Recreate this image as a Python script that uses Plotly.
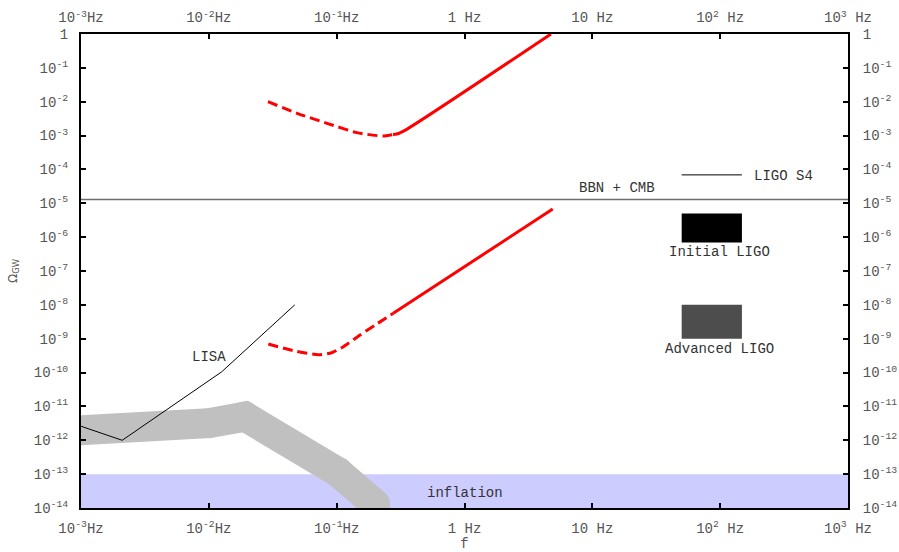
import math
import plotly.graph_objects as go

# ---- data ----
x_tickvals = [1e-3, 1e-2, 1e-1, 1, 10, 100, 1000]
x_ticktext = ["10<sup>-3</sup>Hz", "10<sup>-2</sup>Hz", "10<sup>-1</sup>Hz", "1 Hz",
              "10 Hz", "10<sup>2</sup> Hz", "10<sup>3</sup> Hz"]
y_tickvals = [10.0 ** -k for k in range(0, 15)]
y_ticktext = ["1"] + ["10<sup>-%d</sup>" % k for k in range(1, 15)]

# upper red curve
up_dash_f = [0.029, 0.049, 0.084, 0.144, 0.23, 0.276]
up_dash_o = [1.0e-2, 4.55e-3, 2.3e-3, 1.22e-3, 9.7e-4, 1.07e-3]
up_solid_f = [0.276, 0.295, 0.353, 4.75]
up_solid_o = [1.07e-3, 1.11e-3, 1.53e-3, 1.0]

# lower red curve
lo_dash_f = [0.0292, 0.0458, 0.0718, 0.0914, 0.1127, 0.1524, 0.2056, 0.2773]
lo_dash_o = [6.98e-10, 4.43e-10, 3.37e-10, 3.86e-10, 5.81e-10, 1.29e-9, 2.72e-9, 5.64e-9]
lo_solid_f = [0.2773, 4.9]
lo_solid_o = [5.64e-9, 6.78e-6]

# LISA sensitivity
lisa_f = [1e-3, 2.1e-3, 0.0126, 0.047]
lisa_o = [2.6e-12, 1.0e-12, 1.05e-10, 1.0e-8]

# grey band (centre line)
band_f = [8e-4, 0.01, 0.0192, 0.1026, 0.2]
band_o = [1.9e-12, 3.2e-12, 5.0e-12, 1.15e-13, 1.3e-14]

# BBN + CMB bound
bbn_f = [1e-3, 1e3]
bbn_o = [1.3e-5, 1.3e-5]

# LIGO S4
s4_f = [50, 148]
s4_o = [6.9e-5, 6.9e-5]

# Initial / Advanced LIGO boxes: [f_lo, f_hi], [omega_lo, omega_hi]
init_f = [50, 148]
init_o = [7e-7, 5e-6]
adv_f = [50, 148]
adv_o = [1e-9, 1e-8]

# inflation band
infl_f = [1e-3, 1e3]
infl_o = [1e-14, 1e-13]

# labels: text, f, omega, anchor
labels = [
    ("LISA", 0.01, 2.8e-10, "center"),
    ("BBN + CMB", 15.6, 2.9e-5, "center"),
    ("LIGO S4", 178, 6.2e-5, "left"),
    ("Initial LIGO", 98, 3.7e-7, "center"),
    ("Advanced LIGO", 98, 5.1e-10, "center"),
    ("inflation", 1.0, 2.8e-14, "center"),
]

MONO = "Liberation Mono, Courier New, monospace"
RED = "#ff0000"

fig = go.Figure()


def rect(fr, orr, color):
    fig.add_trace(go.Scatter(
        x=[fr[0], fr[1], fr[1], fr[0], fr[0]],
        y=[orr[0], orr[0], orr[1], orr[1], orr[0]],
        mode="lines", fill="toself", fillcolor=color,
        line=dict(width=0, color=color), hoverinfo="skip", showlegend=False))


rect(infl_f, infl_o, "#ccccff")

# thick grey band: wide line, round joins/caps emulated by circular markers
fig.add_trace(go.Scatter(x=band_f, y=band_o, mode="lines+markers",
                         line=dict(color="#c0c0c0", width=30, simplify=False),
                         marker=dict(color="#c0c0c0", size=30, line=dict(width=0)),
                         showlegend=False, hoverinfo="skip"))

fig.add_trace(go.Scatter(x=lisa_f, y=lisa_o, mode="lines",
                         line=dict(color="black", width=1), showlegend=False))

fig.add_trace(go.Scatter(x=bbn_f, y=bbn_o, mode="lines",
                         line=dict(color="#6e6e6e", width=1.5), showlegend=False))

fig.add_trace(go.Scatter(x=s4_f, y=s4_o, mode="lines",
                         line=dict(color="black", width=1), showlegend=False))

rect(init_f, init_o, "#000000")
rect(adv_f, adv_o, "#4d4d4d")

for fx, oy, dash in [(up_dash_f, up_dash_o, "10px,5px"), (up_solid_f, up_solid_o, "solid"),
                     (lo_dash_f, lo_dash_o, "10px,5px"), (lo_solid_f, lo_solid_o, "solid")]:
    fig.add_trace(go.Scatter(x=fx, y=oy, mode="lines",
                             line=dict(color=RED, width=3, dash=dash, shape="spline", smoothing=0.6),
                             showlegend=False))

for txt, fx, oy, anc in labels:
    fig.add_annotation(x=math.log10(fx), y=math.log10(oy), xref="x", yref="y",
                       text=txt, showarrow=False, xanchor=anc, yanchor="middle",
                       font=dict(family=MONO, size=14, color="#333333"))

tickfont = dict(family=MONO, size=14, color="#555555")
axis_common = dict(type="log", showgrid=False, zeroline=False, showline=True,
                   linecolor="black", linewidth=2, ticks="inside", ticklen=5,
                   tickwidth=1.5, tickcolor="black", tickfont=tickfont, automargin=False)

fig.update_layout(
    width=899, height=552,
    margin=dict(l=81, r=51, t=34, b=44, autoexpand=False),
    paper_bgcolor="white", plot_bgcolor="white",
    showlegend=False,
    xaxis=dict(axis_common, range=[-3, 3], tickvals=x_tickvals, ticktext=x_ticktext,
               ticklabelstandoff=6,
               title=dict(text="f", font=dict(family=MONO, size=14, color="#555555"), standoff=8)),
    xaxis2=dict(axis_common, range=[-3, 3], tickvals=x_tickvals, ticktext=x_ticktext,
                overlaying="x", side="top", anchor="y", ticklabelstandoff=4),
    yaxis=dict(axis_common, range=[-14, 0], tickvals=y_tickvals, ticktext=y_ticktext,
               ticklabelstandoff=8,
               title=dict(text="Ω<sub>GW</sub>", font=dict(family="DejaVu Sans", size=12, color="#555555"),
                          standoff=14)),
    yaxis2=dict(axis_common, range=[-14, 0], tickvals=y_tickvals, ticktext=y_ticktext,
                overlaying="y", side="right", anchor="x", ticklabelstandoff=10),
)

# dummy trace so secondary axes are drawn
fig.add_trace(go.Scatter(x=[1e-3], y=[1e-14], xaxis="x2", yaxis="y2", mode="markers",
                         marker=dict(opacity=0), showlegend=False, hoverinfo="skip"))

fig.write_html("out.html", config={"displayModeBar": False},
               post_script="document.body.style.margin='0';document.body.style.padding='0';")
